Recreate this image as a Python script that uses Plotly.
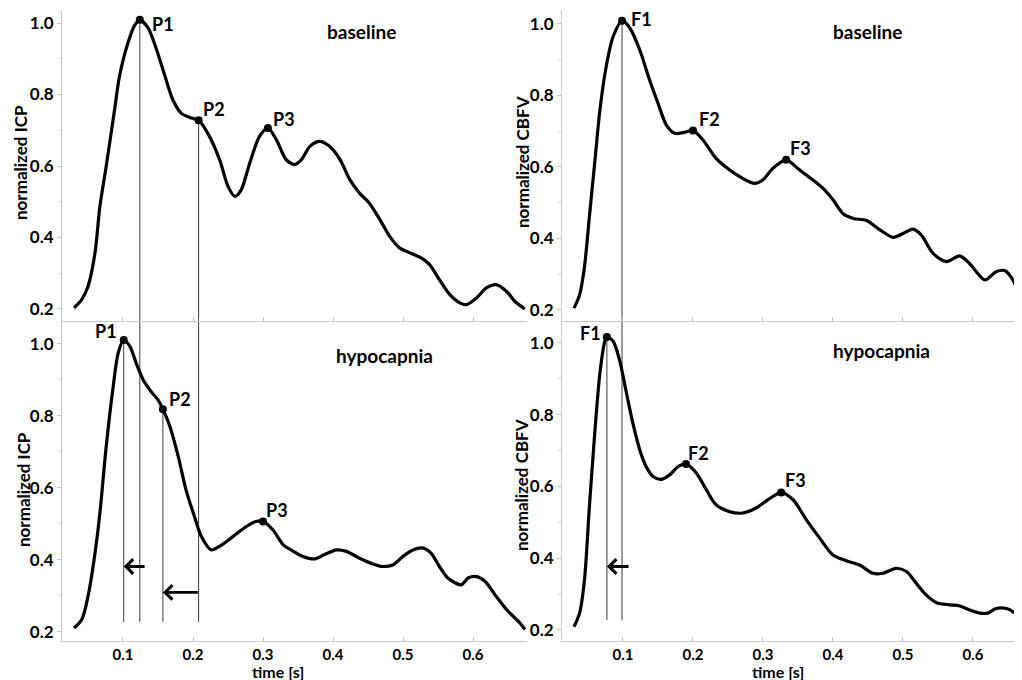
import plotly.graph_objects as go

# ---------------- data ----------------
icp_base_t = [0.030, 0.041, 0.050, 0.060, 0.067, 0.076, 0.088, 0.095, 0.107, 0.117, 0.124, 0.136, 0.148, 0.160, 0.171,
              0.183, 0.198, 0.208, 0.221, 0.238, 0.250, 0.260, 0.269, 0.281, 0.295, 0.307, 0.319, 0.333, 0.345, 0.355,
              0.367, 0.381, 0.395, 0.410, 0.424, 0.438, 0.452, 0.467, 0.481, 0.495, 0.510, 0.526, 0.538, 0.552, 0.567,
              0.581, 0.590, 0.605, 0.619, 0.633, 0.648, 0.660, 0.674]
icp_base_v = [0.203, 0.226, 0.263, 0.357, 0.487, 0.599, 0.758, 0.851, 0.944, 0.995, 1.009, 0.986, 0.925, 0.851, 0.786,
              0.748, 0.734, 0.728, 0.692, 0.618, 0.543, 0.515, 0.534, 0.608, 0.683, 0.706, 0.674, 0.618, 0.604, 0.618,
              0.655, 0.669, 0.655, 0.618, 0.562, 0.524, 0.496, 0.450, 0.403, 0.371, 0.357, 0.343, 0.324, 0.282, 0.240,
              0.217, 0.212, 0.231, 0.259, 0.268, 0.249, 0.221, 0.200]

icp_hypo_t = [0.030, 0.041, 0.050, 0.060, 0.067, 0.076, 0.086, 0.093, 0.101, 0.110, 0.119, 0.129, 0.140, 0.150, 0.157,
              0.167, 0.179, 0.190, 0.202, 0.212, 0.226, 0.238, 0.257, 0.276, 0.290, 0.300, 0.314, 0.329, 0.340, 0.357,
              0.374, 0.388, 0.405, 0.419, 0.438, 0.457, 0.471, 0.486, 0.500, 0.514, 0.529, 0.540, 0.552, 0.564, 0.583,
              0.593, 0.605, 0.617, 0.633, 0.648, 0.667, 0.674]
icp_hypo_v = [0.211, 0.234, 0.299, 0.419, 0.530, 0.715, 0.882, 0.974, 1.011, 0.993, 0.946, 0.900, 0.868, 0.845, 0.819,
              0.771, 0.687, 0.595, 0.521, 0.465, 0.428, 0.438, 0.465, 0.493, 0.507, 0.507, 0.484, 0.442, 0.428, 0.410,
              0.403, 0.415, 0.428, 0.424, 0.405, 0.389, 0.382, 0.387, 0.410, 0.428, 0.433, 0.419, 0.382, 0.350, 0.331,
              0.350, 0.354, 0.341, 0.299, 0.262, 0.225, 0.207]

cbfv_base_t = [0.030, 0.038, 0.045, 0.052, 0.060, 0.067, 0.076, 0.086, 0.099, 0.110, 0.124, 0.138, 0.150, 0.162, 0.174,
               0.186, 0.200, 0.214, 0.233, 0.252, 0.271, 0.288, 0.300, 0.314, 0.333, 0.352, 0.371, 0.388, 0.400, 0.414,
               0.429, 0.448, 0.467, 0.486, 0.500, 0.514, 0.526, 0.543, 0.562, 0.581, 0.595, 0.617, 0.633, 0.645, 0.657,
               0.667, 0.672]
cbfv_base_v = [0.205, 0.242, 0.321, 0.461, 0.620, 0.759, 0.881, 0.965, 1.009, 0.988, 0.927, 0.843, 0.778, 0.717, 0.694,
               0.696, 0.702, 0.676, 0.624, 0.592, 0.568, 0.554, 0.564, 0.596, 0.620, 0.592, 0.564, 0.536, 0.508, 0.470,
               0.456, 0.450, 0.424, 0.403, 0.414, 0.426, 0.410, 0.358, 0.335, 0.351, 0.330, 0.284, 0.307, 0.310, 0.284,
               0.237, 0.215]

cbfv_hypo_t = [0.030, 0.038, 0.045, 0.052, 0.060, 0.067, 0.074, 0.077, 0.086, 0.095, 0.105, 0.114, 0.124, 0.133, 0.143,
               0.155, 0.167, 0.179, 0.190, 0.205, 0.219, 0.233, 0.252, 0.271, 0.290, 0.310, 0.326, 0.343, 0.362, 0.381,
               0.400, 0.419, 0.438, 0.457, 0.471, 0.490, 0.505, 0.519, 0.533, 0.548, 0.567, 0.581, 0.595, 0.610, 0.621,
               0.633, 0.648, 0.660, 0.669, 0.674]
cbfv_hypo_v = [0.209, 0.247, 0.340, 0.544, 0.758, 0.916, 1.005, 1.017, 1.005, 0.953, 0.860, 0.777, 0.702, 0.656, 0.628,
               0.620, 0.633, 0.656, 0.663, 0.637, 0.591, 0.549, 0.530, 0.526, 0.540, 0.567, 0.583, 0.563, 0.507, 0.456,
               0.409, 0.393, 0.381, 0.358, 0.358, 0.372, 0.363, 0.330, 0.298, 0.276, 0.270, 0.267, 0.256, 0.247, 0.247,
               0.260, 0.260, 0.247, 0.228, 0.210]

# characteristic peaks
icp_peak_names = ["P1", "P2", "P3"]
cbfv_peak_names = ["F1", "F2", "F3"]
icp_base_peak_t = [0.124, 0.208, 0.307]
icp_base_peak_v = [1.009, 0.728, 0.706]
icp_hypo_peak_t = [0.101, 0.157, 0.300]
icp_hypo_peak_v = [1.011, 0.819, 0.507]
cbfv_base_peak_t = [0.0986, 0.200, 0.333]
cbfv_base_peak_v = [1.009, 0.702, 0.620]
cbfv_hypo_peak_t = [0.077, 0.190, 0.326]
cbfv_hypo_peak_v = [1.017, 0.663, 0.583]

guide_bottom = 0.228          # lower end of the vertical guide lines
icp_arrow_tail_t = [0.133, 0.209]
icp_arrow_v = [0.382, 0.310]
cbfv_arrow_tail_t = [0.110]
cbfv_arrow_v = [0.377]

y_ticks = [0.2, 0.4, 0.6, 0.8, 1.0]
x_ticks = [0.1, 0.2, 0.3, 0.4, 0.5, 0.6]

# ---------------- styling ----------------
FONT = "Lato"
AX_COLOR = "#c8c8c8"
CURVE_W = 3.2
GUIDE_COLOR = "#3a3a3a"
FIG_W, FIG_H = 1014, 672   # the page body adds an 8 px margin

# panel: (xaxis, yaxis, x-domain, y-domain, x-range, y-range)
panels = {
    "icp_base": ("x", "y", [0.05325, 0.51183], [0.53423, 0.99702], [0.01286, 0.6771], [0.1664, 1.0364]),
    "cbfv_base": ("x2", "y2", [0.54635, 1.0], [0.53423, 0.99702], [0.01286, 0.6700], [0.1690, 1.0390]),
    "icp_hypo": ("x3", "y3", [0.05325, 0.51183], [0.05804, 0.53274], [0.01286, 0.6771], [0.1750, 1.0611]),
    "cbfv_hypo": ("x4", "y4", [0.54635, 1.0], [0.05804, 0.53274], [0.01286, 0.6700], [0.1693, 1.0585]),
}

fig = go.Figure()


def add_curve(panel, t, v):
    xa, ya = panels[panel][0], panels[panel][1]
    fig.add_trace(go.Scatter(x=t, y=v, mode="lines", xaxis=xa, yaxis=ya,
                             line=dict(color="black", width=CURVE_W, shape="spline", smoothing=0.8),
                             hoverinfo="skip", showlegend=False))


def add_guide(panel, t, top, bottom):
    xa, ya = panels[panel][0], panels[panel][1]
    fig.add_trace(go.Scatter(x=[t, t], y=[top, bottom], mode="lines", xaxis=xa, yaxis=ya,
                             line=dict(color=GUIDE_COLOR, width=1), hoverinfo="skip", showlegend=False))


def add_peaks(panel, names, t, v, offsets):
    xa, ya = panels[panel][0], panels[panel][1]
    fig.add_trace(go.Scatter(x=t, y=v, mode="markers", xaxis=xa, yaxis=ya,
                             marker=dict(color="black", size=8), hoverinfo="skip", showlegend=False,
                             cliponaxis=False))
    for name, tt, vv, (anchor, dx, dy) in zip(names, t, v, offsets):
        fig.add_annotation(x=tt, y=vv, xref=xa, yref=ya, text=name, showarrow=False,
                           xanchor=anchor, yanchor="middle", xshift=dx, yshift=dy,
                           font=dict(family=FONT, size=18, color="black", weight="bold"))


# guide lines (drawn first so curves sit on top)
for t, v in zip(icp_base_peak_t[:2], icp_base_peak_v[:2]):
    add_guide("icp_base", t, v, panels["icp_base"][5][0])
    add_guide("icp_hypo", t, panels["icp_hypo"][5][1], guide_bottom)
for t, v in zip(icp_hypo_peak_t[:2], icp_hypo_peak_v[:2]):
    add_guide("icp_hypo", t, v, guide_bottom)
add_guide("cbfv_base", cbfv_base_peak_t[0], cbfv_base_peak_v[0], panels["cbfv_base"][5][0])
add_guide("cbfv_hypo", cbfv_base_peak_t[0], panels["cbfv_hypo"][5][1], guide_bottom)
add_guide("cbfv_hypo", cbfv_hypo_peak_t[0], cbfv_hypo_peak_v[0], guide_bottom)

add_curve("icp_base", icp_base_t, icp_base_v)
add_curve("cbfv_base", cbfv_base_t, cbfv_base_v)
add_curve("icp_hypo", icp_hypo_t, icp_hypo_v)
add_curve("cbfv_hypo", cbfv_hypo_t, cbfv_hypo_v)

add_peaks("icp_base", icp_peak_names, icp_base_peak_t, icp_base_peak_v,
          [("left", 10, -4), ("left", 2, 11), ("left", 3, 9)])
add_peaks("cbfv_base", cbfv_peak_names, cbfv_base_peak_t, cbfv_base_peak_v,
          [("left", 7, 2), ("left", 4, 11), ("left", 2, 12)])
add_peaks("icp_hypo", icp_peak_names, icp_hypo_peak_t, icp_hypo_peak_v,
          [("right", -5, 9), ("left", 4, 10), ("left", 1, 11)])
add_peaks("cbfv_hypo", cbfv_peak_names, cbfv_hypo_peak_t, cbfv_hypo_peak_v,
          [("right", -4, 4), ("left", 0, 11), ("left", 2, 13)])

# arrows showing the shift of the peaks
for head_t, tail_t, v in zip(icp_hypo_peak_t[:2], icp_arrow_tail_t, icp_arrow_v):
    fig.add_annotation(x=head_t, y=v, ax=tail_t, ay=v, xref="x3", yref="y3", axref="x3", ayref="y3",
                       text="", showarrow=True, arrowhead=4, arrowsize=1, arrowwidth=2.8,
                       arrowcolor="black", standoff=0, startstandoff=0)
for head_t, tail_t, v in zip(cbfv_hypo_peak_t[:1], cbfv_arrow_tail_t, cbfv_arrow_v):
    fig.add_annotation(x=head_t, y=v, ax=tail_t, ay=v, xref="x4", yref="y4", axref="x4", ayref="y4",
                       text="", showarrow=True, arrowhead=4, arrowsize=1, arrowwidth=2.8,
                       arrowcolor="black", standoff=0, startstandoff=0)

# panel captions
label_font = dict(family=FONT, size=19, color="black", weight="bold")
fig.add_annotation(x=0.441, y=0.975, xref="x", yref="y", text="baseline", showarrow=False, font=label_font)
fig.add_annotation(x=0.449, y=0.978, xref="x2", yref="y2", text="baseline", showarrow=False, font=label_font)
fig.add_annotation(x=0.473, y=0.969, xref="x3", yref="y3", text="hypocapnia", showarrow=False, font=label_font)
fig.add_annotation(x=0.469, y=0.980, xref="x4", yref="y4", text="hypocapnia", showarrow=False, font=label_font)

# axis titles
title_font = dict(family=FONT, size=17, color="black", weight="bold")
for txt, px, py in [("normalized ICP", 0.0118, 0.7708), ("normalized ICP", 0.0148, 0.2827),
                    ("normalized CBFV", 0.5069, 0.7708), ("normalized CBFV", 0.5069, 0.2902)]:
    fig.add_annotation(x=px, y=py, xref="paper", yref="paper", text=txt, textangle=-90,
                       showarrow=False, xanchor="center", yanchor="middle", font=title_font)
for xa in ["x3", "x4"]:
    fig.add_annotation(x=0.321, y=0.0, xref=xa, yref="paper", text="time [s]", showarrow=False,
                       xanchor="center", yanchor="bottom", borderpad=0, yshift=-2,
                       font=dict(family=FONT, size=16, color="black", weight="bold"))

tick_font = dict(family=FONT, size=17, color="black", weight="bold")
x_tick_font = dict(family=FONT, size=15, color="black", weight="bold")
layout_axes = {}
for name, (xa, ya, xd, yd, xr, yr) in panels.items():
    xkey = "xaxis" + xa[1:]
    ykey = "yaxis" + ya[1:]
    bottom_row = name.endswith("hypo")
    layout_axes[xkey] = dict(domain=xd, range=xr, anchor=ya, showline=True, linecolor=AX_COLOR, linewidth=1,
                             showgrid=False, zeroline=False, tickvals=x_ticks, tickformat=".1f",
                             ticks="inside", ticklen=4, tickcolor=AX_COLOR, showticklabels=bottom_row,
                             tickfont=x_tick_font, automargin=False, fixedrange=True)
    layout_axes[ykey] = dict(domain=yd, range=yr, anchor=xa, showline=True, linecolor=AX_COLOR, linewidth=1,
                             showgrid=False, zeroline=False, tickvals=y_ticks, tickformat=".1f",
                             ticks="outside", ticklen=4, tickcolor=AX_COLOR, tickfont=tick_font,
                             minor=dict(dtick=0.1, tick0=0.0, ticks="outside", ticklen=3, tickcolor="#dcdcdc"),
                             automargin=False, fixedrange=True)

fig.update_layout(width=FIG_W, height=FIG_H, margin=dict(l=0, r=0, t=0, b=0),
                  paper_bgcolor="white", plot_bgcolor="white", showlegend=False,
                  font=dict(family=FONT, color="black"), **layout_axes)

fig.write_html("out.html")
